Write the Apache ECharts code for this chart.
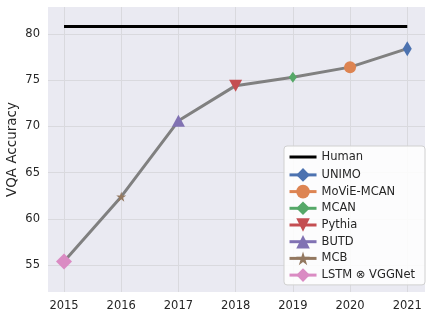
<!DOCTYPE html>
<html><head><meta charset="utf-8">
<script src="https://cdn.jsdelivr.net/npm/echarts@6/dist/echarts.min.js"></script>
<style>html,body{margin:0;padding:0;background:#fff}#c{width:432px;height:319px}</style>
</head><body><div id="c"></div>
<script>
const years = [2015, 2016, 2017, 2018, 2019, 2020, 2021];
const accuracy = [55.4, 62.4, 70.6, 74.4, 75.3, 76.4, 78.4];
const methods = ['LSTM ⊗ VGGNet', 'MCB', 'BUTD', 'Pythia', 'MCAN', 'MoViE-MCAN', 'UNIMO'];
const human = 80.8;
const yTicks = [55, 60, 65, 70, 75, 80];
const legendOrder = ['Human', 'UNIMO', 'MoViE-MCAN', 'MCAN', 'Pythia', 'BUTD', 'MCB', 'LSTM ⊗ VGGNet'];

const colors = ['#da8bc3', '#937860', '#8172b3', '#c44e52', '#55a868', '#dd8452', '#4c72b0'];
const thinDiamond = 'path://M0,-1 L0.62,0 L0,1 L-0.62,0 Z';
const star = 'path://M0,-1 L0.2245,-0.309 L0.9511,-0.309 L0.3633,0.118 L0.5878,0.809 L0,0.382 L-0.5878,0.809 L-0.3633,0.118 L-0.9511,-0.309 L-0.2245,-0.309 Z';
const symbols = ['diamond', star, 'triangle', 'triangle', thinDiamond, 'circle', thinDiamond];
const sizes = [[16, 16], [10, 10], [13, 12], [13, 12], [8, 11], [12, 12], [9, 15]];
const rotates = [0, 0, 0, 180, 0, 0, 0];
const lineIcon = 'path://M0,0 L0.01,0 Z M0,6.5 L27,6.5 L27,9.5 L0,9.5 Z M0,16 L0.01,16 Z';

const series = [
  {
    name: 'trend', type: 'line', data: years.map((y, i) => [y, accuracy[i]]),
    showSymbol: false, lineStyle: { color: '#808080', width: 3 }, itemStyle: { color: '#808080' },
    silent: true, z: 2
  },
  {
    name: 'Human', type: 'line', data: [[years[0], human], [years[years.length - 1], human]],
    showSymbol: false, symbol: 'none', lineStyle: { color: '#000', width: 3 }, itemStyle: { color: '#000' }, z: 2
  }
];
methods.forEach((m, i) => {
  series.push({
    name: m, type: 'line', data: [[years[i], accuracy[i]]],
    symbol: symbols[i], symbolSize: sizes[i], symbolRotate: rotates[i], showSymbol: true,
    lineStyle: { color: colors[i], width: 3 }, itemStyle: { color: colors[i] }, z: 3
  });
});

const chart = echarts.init(document.getElementById('c'), null, { renderer: 'canvas' });
chart.setOption({
  animation: false,
  textStyle: { fontFamily: 'DejaVu Sans' },
  grid: { left: 48, right: 7, top: 7, bottom: 27, show: true, backgroundColor: '#eaeaf2', borderWidth: 0,
          containLabel: false, outerBoundsMode: 'none' },
  xAxis: {
    type: 'value', min: 2014.72, max: 2021.31,
    axisLine: { show: false }, axisTick: { show: false, customValues: years },
    axisLabel: { customValues: years, color: '#262626', fontSize: 11.5, margin: 8, formatter: v => String(v) },
    splitLine: { show: true, lineStyle: { color: '#d9d9de', width: 1 } }
  },
  yAxis: {
    type: 'value', min: 52.1, max: 82.9,
    name: 'VQA Accuracy', nameLocation: 'middle', nameGap: 29, nameRotate: 90, nameMoveOverlap: false,
    nameTextStyle: { fontSize: 13.5, color: '#262626' },
    axisLine: { show: false }, axisTick: { show: false, customValues: yTicks },
    axisLabel: { customValues: yTicks, color: '#262626', fontSize: 11.5, margin: 8 },
    splitLine: { show: true, lineStyle: { color: '#d9d9de', width: 1 } }
  },
  legend: {
    data: legendOrder.map(n => n === 'Human' ? { name: n, icon: lineIcon } : { name: n }),
    orient: 'vertical', right: 7, top: 146,
    itemWidth: 27, itemHeight: 17, itemGap: 3.1,
    lineStyle: { width: 3 },
    backgroundColor: 'rgba(255,255,255,0.85)', borderColor: '#d0d0d0', borderWidth: 1, borderRadius: 3,
    padding: [3, 10, 3, 4],
    textStyle: { fontSize: 11.5, color: '#262626' }
  },
  series: series
});
</script></body></html>
